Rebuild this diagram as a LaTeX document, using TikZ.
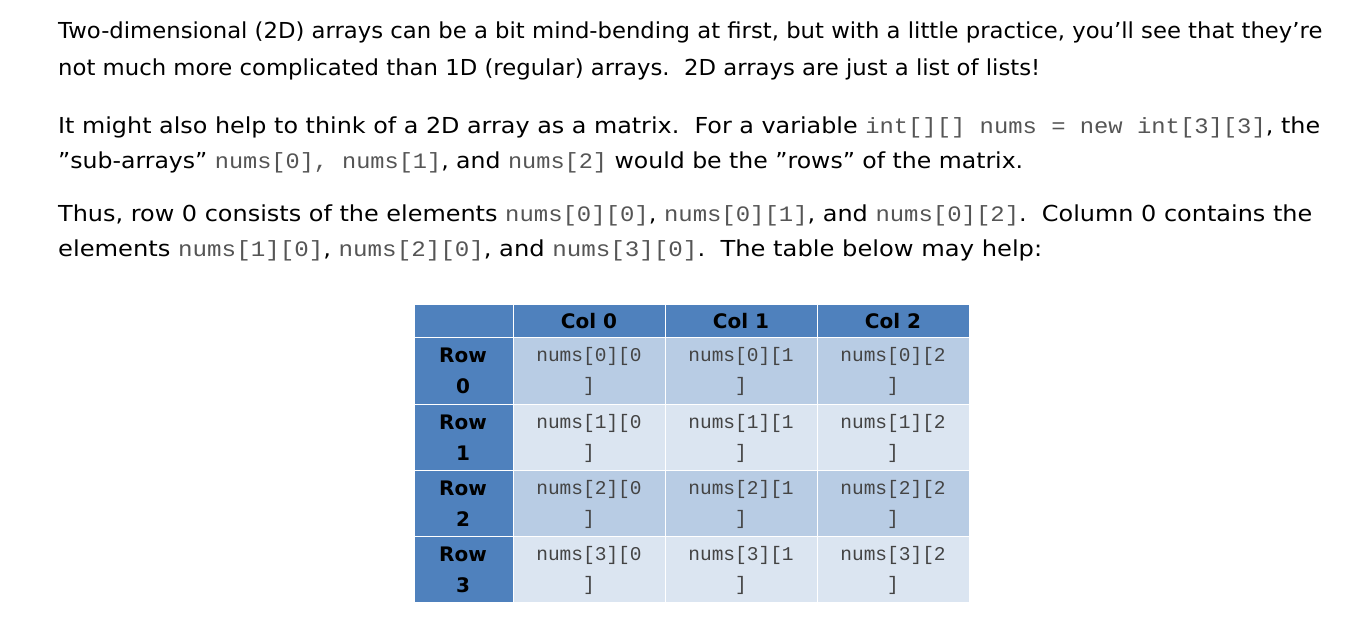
\documentclass[tikz,border=0pt]{standalone}
\usepackage{fontspec}
\setmainfont{DejaVu Sans}[Ligatures=ResetAll]
\setmonofont{Liberation Mono}
\usepackage{graphicx}
\definecolor{hdr}{HTML}{4F81BD}
\definecolor{rowA}{HTML}{B8CCE4}
\definecolor{rowB}{HTML}{DBE5F1}
\definecolor{codec}{HTML}{555555}
\newcommand{\cd}[1]{{\color{codec}\ttfamily #1}}
\begin{document}
\begin{tikzpicture}[x=1pt,y=-1pt,
  para/.style={anchor=base west,inner sep=0pt,font=\fontsize{22}{26}\selectfont},
  cell/.style={draw=white,line width=1pt},
  hd/.style={font=\fontsize{20}{24}\selectfont\bfseries,anchor=base},
  ct/.style={font=\fontsize{19.5}{22}\selectfont\ttfamily,text=codec!80!black,anchor=base}]
\useasboundingbox (0,0) rectangle (1354,625);
\fill[white] (0,0) rectangle (1354,625);
\node[para] (l1) at (58,38) {\resizebox{1264pt}{\height}{Two-dimensional (2D) arrays can be a bit mind-bending at first, but with a little practice, you'll see that they're}};
\node[para] (l2) at (58,75) {\resizebox{982pt}{\height}{not much more complicated than 1D (regular) arrays.\ \ 2D arrays are just a list of lists!}};
\node[para] (l3) at (58,133) {\resizebox{1262pt}{\height}{It might also help to think of a 2D array as a matrix.\ \ For a variable \cd{int[][] nums = new int[3][3]}, the}};
\node[para] (l4) at (58,168) {\resizebox{965pt}{\height}{"sub-arrays" \cd{nums[0], nums[1]}, and \cd{nums[2]} would be the "rows" of the matrix.}};
\node[para] (l5) at (58,221) {\resizebox{1254pt}{\height}{Thus, row 0 consists of the elements \cd{nums[0][0]}, \cd{nums[0][1]}, and \cd{nums[0][2]}.\ \ Column 0 contains the}};
\node[para] (l6) at (58,256) {\resizebox{984pt}{\height}{elements \cd{nums[1][0]}, \cd{nums[2][0]}, and \cd{nums[3][0]}.\ \ The table below may help:}};
% table
\def\xs{{414,513,665,817,969}}
\def\ys{{304,337,404,470,536,602}}
\foreach \c in {0,...,3}{
  \pgfmathsetmacro\xa{\xs[\c]}\pgfmathsetmacro\xb{\xs[\c+1]}
  \fill[hdr,cell] (\xa,304) rectangle (\xb,337);}
\foreach \r in {1,...,4}{
  \pgfmathsetmacro\ya{\ys[\r]}\pgfmathsetmacro\yb{\ys[\r+1]}
  \fill[hdr,cell] (414,\ya) rectangle (513,\yb);
  \pgfmathparse{mod(\r,2)==1?1:0}
  \ifnum\pgfmathresult=1 \def\fc{rowA}\else\def\fc{rowB}\fi
  \foreach \c in {1,2,3}{
    \pgfmathsetmacro\xa{\xs[\c]}\pgfmathsetmacro\xb{\xs[\c+1]}
    \fill[\fc,cell] (\xa,\ya) rectangle (\xb,\yb);}}
\node[hd] (h0) at (589,328) {Col 0};
\node[hd] (h1) at (741,328) {Col 1};
\node[hd] (h2) at (893,328) {Col 2};
\foreach \r/\y in {0/337,1/404,2/470,3/536}{
  \node[hd] (r\r a) at (463,\y+25) {Row};
  \node[hd] (r\r b) at (463,\y+56) {\r};
  \foreach \c/\x in {0/589,1/741,2/893}{
    \node[ct] (n\r\c a) at (\x,\y+24) {nums[\r][\c};
    \node[ct] (n\r\c b) at (\x,\y+54) {]};}}
\end{tikzpicture}
\end{document}
